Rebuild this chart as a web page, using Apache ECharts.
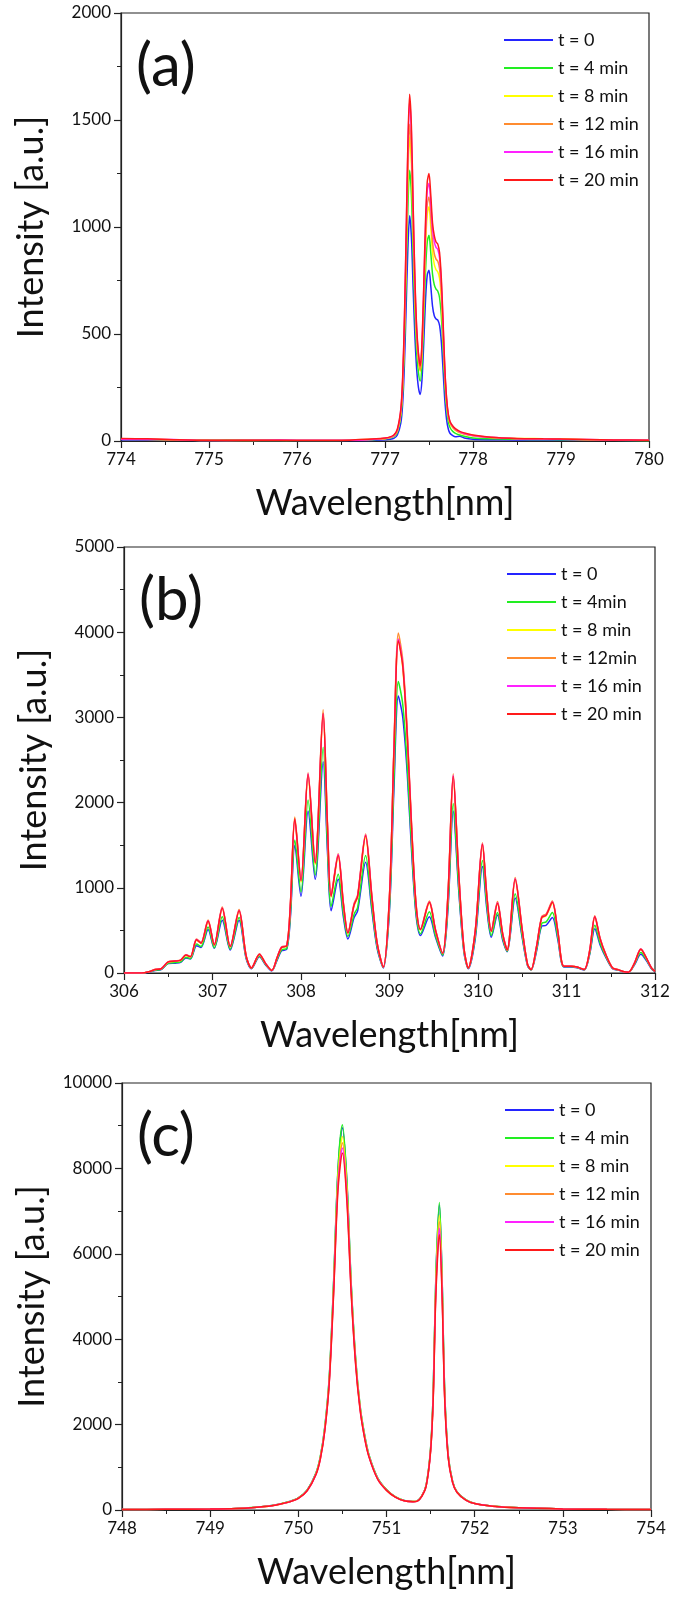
<!DOCTYPE html>
<html><head><meta charset="utf-8">
<script src="https://cdn.jsdelivr.net/npm/echarts@6/dist/echarts.min.js"></script>
<style>html,body{margin:0;padding:0;background:#fff}#c{width:675px;height:1597px}</style>
</head><body><div id="c"></div>
<script>
// ---------- Panel (a): 774-780 nm ----------
const aWave = [774.0,774.3,774.6,775.0,775.4,775.8,776.2,776.6,776.9,777.0,
777.05,777.1,777.14,777.18,777.2,777.22,777.24,777.26,777.28,777.3,
777.32,777.34,777.36,777.38,777.4,777.42,777.44,777.46,777.48,777.5,
777.52,777.54,777.56,777.58,777.6,777.62,777.64,777.66,777.68,777.7,
777.72,777.74,777.77,777.8,777.85,777.9,778.0,778.2,778.5,778.8,
779.0,779.3,779.6,780.0];
const aT0 = [6,5,4,2,2,3,2,2,4,6, 8,12,28,85,170,350,620,900,1052,955, 710,490,335,250,217,285,455,655,775,798, 725,630,585,570,565,540,465,330,190,100, 55,35,25,20,22,14,8,6,5,5, 4,3,3,2];
const aT4 = [11,8,5,3,6,3,2,3,7,10, 13,20,40,115,225,440,755,1090,1265,1150, 860,595,415,320,280,355,555,790,930,962, 880,780,730,710,700,670,585,430,260,150, 90,62,45,36,28,22,14,10,8,7, 6,5,3,2];
const aT8 = [9,9,6,2,3,2,4,4,8,11, 15,23,46,130,250,490,845,1220,1420,1295, 970,675,475,375,325,410,635,900,1060,1095, 1000,880,825,800,790,760,665,490,300,178, 110,80,62,50,38,31,24,16,12,11, 10,6,4,2];
const aT12 = [10,7,5,3,2,4,3,5,9,12, 16,24,48,135,260,510,880,1270,1480,1350, 1010,700,490,385,330,425,660,935,1105,1140, 1050,930,875,850,840,805,700,515,315,185, 115,84,65,52,40,33,25,16,11,10, 8,6,4,3];
const aT16 = [8,8,7,2,3,5,3,3,9,13, 17,26,52,145,280,545,940,1360,1590,1440, 1080,745,520,405,350,450,700,990,1170,1205, 1110,990,930,905,895,855,740,545,330,195, 120,88,68,55,42,35,26,17,11,9, 8,7,5,3];
const aT20 = [12,10,6,3,4,3,2,4,10,14, 18,28,55,150,290,560,960,1390,1620,1470, 1100,760,530,410,350,460,720,1020,1210,1250, 1150,1020,960,930,920,880,760,560,340,200, 125,90,70,58,45,38,28,18,12,10, 9,7,5,3];

// ---------- Panel (b): 306-312 nm ----------
const bWave = [306.00,306.20,306.28,306.35,306.42,306.50,306.58,306.64,306.70,306.75,
306.82,306.87,306.95,307.02,307.11,307.20,307.30,307.38,307.44,307.53,
307.60,307.67,307.73,307.78,307.84,307.88,307.93,308.00,308.08,308.16,
308.25,308.30,308.34,308.42,308.48,308.53,308.60,308.64,308.73,308.80,
308.86,308.93,309.00,309.05,309.10,309.15,309.20,309.25,309.30,309.35,
309.45,309.52,309.60,309.66,309.72,309.78,309.84,309.89,309.97,310.05,
310.10,310.15,310.22,310.28,310.33,310.42,310.50,310.56,310.60,310.66,
310.72,310.77,310.84,310.90,310.97,311.05,311.12,311.20,311.26,311.32,
311.38,311.45,311.52,311.58,311.65,311.70,311.77,311.84,311.90,311.96,
312.00];
const bT0 = [0,0,10,30,40,110,115,125,175,165,
320,300,510,290,620,270,620,170,50,190,
95,25,150,260,280,650,1500,900,1900,1100,
2480,1400,730,1100,650,400,650,730,1300,740,
290,60,740,2150,3250,3000,2350,1420,680,440,
660,420,200,740,1900,1000,250,50,410,1250,
750,420,680,380,250,880,410,85,35,250,
550,560,650,400,70,70,60,35,210,520,
330,170,50,35,12,8,100,220,150,50,
15];
const bT4 = [0,0,12,33,43,115,122,130,185,170,
340,310,540,295,660,280,650,180,55,200,
100,28,160,270,290,690,1560,950,2030,1150,
2650,1480,780,1160,690,430,690,770,1380,780,
310,65,780,2270,3420,3150,2450,1490,710,460,
720,440,210,780,1990,1040,265,55,440,1320,
790,440,710,400,255,930,430,90,38,265,
580,600,710,430,75,75,65,38,220,560,
350,180,55,38,13,9,108,240,160,55,
18];
const bT8 = [0,0,15,40,50,128,138,148,205,188,
385,345,600,325,750,305,720,198,60,218,
108,30,178,297,316,790,1790,1065,2300,1275,
3020,1680,890,1365,790,465,790,890,1590,890,
345,70,890,2570,3920,3580,2770,1680,790,505,
820,495,228,890,2290,1190,297,60,495,1495,
890,485,810,445,267,1090,495,100,40,297,
645,672,820,495,80,80,70,40,248,652,
396,198,60,40,15,10,118,277,178,60,
20];
const bT12 = [0,0,15,41,51,133,143,153,214,194,
398,357,622,337,775,316,745,204,61,224,
112,31,184,306,326,816,1830,1100,2350,1310,
3090,1730,918,1400,816,480,816,918,1630,918,
357,71,918,2650,3990,3670,2850,1730,816,520,
846,510,235,918,2340,1224,306,61,510,1530,
918,500,840,459,275,1120,510,102,41,306,
663,694,846,510,82,82,71,41,255,673,
408,204,61,41,15,10,122,286,184,61,
20];
const bT16 = [0,0,15,40,50,131,141,151,211,191,
392,352,613,332,764,312,734,201,60,221,
111,30,181,302,322,804,1800,1090,2340,1300,
3040,1710,905,1390,804,472,804,905,1620,905,
352,70,905,2610,3920,3620,2810,1710,804,513,
834,503,231,905,2320,1206,302,60,503,1518,
905,492,824,452,271,1106,503,100,40,302,
653,683,834,503,80,80,70,40,251,663,
402,201,60,40,15,10,121,281,181,60,
20];
const bT20 = [0,0,15,40,50,130,140,150,210,190,
390,350,610,330,760,310,730,200,60,220,
110,30,180,300,320,800,1810,1080,2330,1290,
3050,1700,900,1380,800,470,800,900,1610,900,
350,70,900,2600,3900,3600,2800,1700,800,510,
830,500,230,900,2310,1200,300,60,500,1510,
900,490,820,450,270,1100,500,100,40,300,
650,680,830,500,80,80,70,40,250,660,
400,200,60,40,15,10,120,280,180,60,
20];

// ---------- Panel (c): 748-754 nm ----------
const cWave = [748.0,748.5,749.0,749.3,749.5,749.7,749.8,749.9,750.0,750.1,
750.2,750.25,750.3,750.35,750.4,750.45,750.5,750.55,750.6,750.65,
750.7,750.75,750.8,750.9,751.0,751.1,751.2,751.3,751.35,751.4,
751.45,751.5,751.53,751.56,751.6,751.63,751.66,751.7,751.75,751.8,
751.9,752.0,752.2,752.5,753.0,753.5,754.0];
const cT0 = [11,16,23,36,61,103,143,198,282,465, 860,1250,1930,3070,5300,7950,8950,7700,5260,3520, 2430,1770,1290,745,475,308,222,198,213,327, 585,1430,2780,5450,7150,5450,2780,1280,665,422, 238,153,91,51,25,15,10];
const cT4 = [12,16,24,37,62,105,145,200,285,470, 870,1260,1950,3100,5350,8000,9020,7750,5300,3550, 2450,1780,1300,750,480,310,225,200,215,330, 590,1450,2800,5500,7200,5500,2800,1290,670,425, 240,155,92,52,26,16,11];
const cT8 = [11,15,22,36,61,102,142,195,278,460, 850,1230,1900,3030,5200,7800,8750,7550,5200,3500, 2420,1750,1280,735,470,305,220,198,212,325, 575,1410,2700,5300,6900,5300,2700,1260,655,418, 235,152,91,51,25,15,10];
const cT12 = [10,15,22,35,60,101,141,193,275,455, 840,1215,1880,3000,5150,7700,8600,7450,5150,3460, 2390,1730,1270,728,465,303,218,197,211,323, 568,1395,2660,5200,6750,5200,2660,1245,650,415, 233,151,90,50,25,15,10];
const cT16 = [10,15,22,35,60,100,140,191,272,452, 835,1205,1865,2975,5100,7600,8480,7350,5100,3430, 2370,1715,1260,724,462,301,216,196,210,321, 563,1380,2630,5120,6600,5120,2630,1230,645,412, 231,150,90,50,25,15,10];
const cT20 = [10,15,22,35,60,100,140,190,270,450, 830,1200,1850,2950,5050,7500,8360,7250,5050,3400, 2350,1700,1250,720,460,300,215,195,210,320, 560,1370,2600,5050,6450,5050,2600,1220,640,410, 230,150,90,50,25,15,10];

const namesAC = ['t = 0','t = 4 min','t = 8 min','t = 12 min','t = 16 min','t = 20 min'];
const namesB  = ['t = 0','t = 4min','t = 8 min','t = 12min','t = 16 min','t = 20 min'];
const colors = ['#2424ff','#22ee22','#ffff00','#ff8c30','#ff22ff','#ff1a1a'];

const FONT = 'Lato, "Open Sans", sans-serif';
const panels = [
  {label:'(a)', wave:aWave, vals:[aT0,aT4,aT8,aT12,aT16,aT20], names:namesAC, xMin:774, xMax:780, yMax:2000, yInt:500,
   grid:{left:121, top:13, width:528, height:428}},
  {label:'(b)', wave:bWave, vals:[bT0,bT4,bT8,bT12,bT16,bT20], names:namesB, xMin:306, xMax:312, yMax:5000, yInt:1000,
   grid:{left:124, top:547, width:531, height:426}},
  {label:'(c)', wave:cWave, vals:[cT0,cT4,cT8,cT12,cT16,cT20], names:namesAC, xMin:748, xMax:754, yMax:10000, yInt:2000,
   grid:{left:122, top:1083, width:529, height:427}}
];

const axisCol = '#222';
const option = {
  animation: false,
  backgroundColor: '#fff',
  grid: panels.map(p => Object.assign({show:true, borderColor:axisCol, borderWidth:1.2, backgroundColor:'transparent'}, p.grid)),
  title: panels.map(p => ({text:p.label, left:p.grid.left+15, top:p.grid.top+24, padding:0,
    textStyle:{fontFamily:FONT, fontSize:60, fontWeight:'normal', color:'#111'}})),
  legend: panels.map(p => ({data:p.names, orient:'vertical', left:p.grid.left+383, top:p.grid.top+17, padding:0,
    itemWidth:49, itemHeight:2, icon:'rect', itemGap:8, selectedMode:false,
    textStyle:{fontFamily:FONT, fontSize:18, color:'#111', lineHeight:20}})),
  xAxis: panels.map((p,i) => ({type:'value', gridIndex:i, min:p.xMin, max:p.xMax, interval:1,
    name:'Wavelength[nm]', nameLocation:'middle', nameGap:44,
    nameTextStyle:{fontFamily:FONT, fontSize:36, color:'#111'},
    axisLine:{onZero:false, lineStyle:{color:axisCol, width:1.2}},
    axisTick:{length:7, lineStyle:{color:axisCol, width:1.2}},
    minorTick:{show:true, splitNumber:2, length:4, lineStyle:{color:axisCol, width:1}},
    splitLine:{show:false},
    axisLabel:{fontFamily:FONT, fontSize:17, color:'#111', margin:10, formatter: v => String(v)}})),
  yAxis: panels.map((p,i) => ({type:'value', gridIndex:i, min:0, max:p.yMax, interval:p.yInt,
    name:'Intensity [a.u.]', nameLocation:'middle', nameGap:72,
    nameTextStyle:{fontFamily:FONT, fontSize:36, color:'#111'},
    axisLine:{onZero:false, lineStyle:{color:axisCol, width:1.2}},
    axisTick:{length:7, lineStyle:{color:axisCol, width:1.2}},
    minorTick:{show:true, splitNumber:2, length:4, lineStyle:{color:axisCol, width:1}},
    splitLine:{show:false},
    axisLabel:{fontFamily:FONT, fontSize:17, color:'#111', margin:10, formatter: v => String(v)}})),
  series: []
};
panels.forEach((p,i) => {
  p.vals.forEach((v,j) => {
    option.series.push({type:'line', name:p.names[j], xAxisIndex:i, yAxisIndex:i,
      data:p.wave.map((w,k) => [w, v[k]]), showSymbol:false, smooth:0.3,
      lineStyle:{width:1.5, color:colors[j]}, itemStyle:{color:colors[j]}, z:2+j});
  });
});
const chart = echarts.init(document.getElementById('c'), null, {renderer:'canvas'});
chart.setOption(option);
</script></body></html>
